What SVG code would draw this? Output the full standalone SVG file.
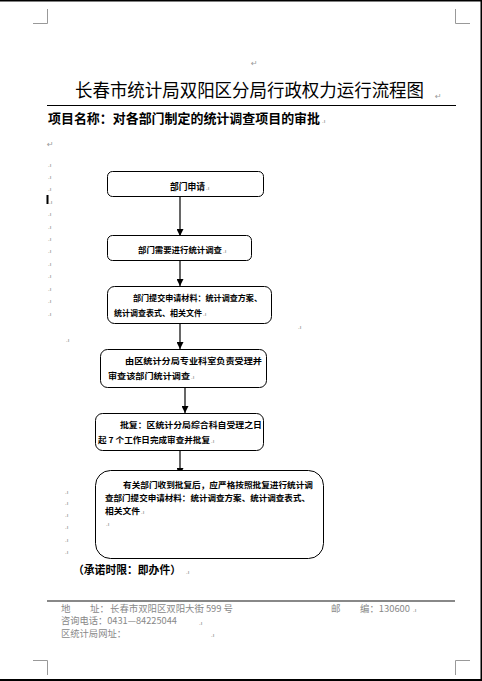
<svg xmlns="http://www.w3.org/2000/svg" width="482" height="681" viewBox="0 0 482 681">
<style>
.bx{fill:#fff;stroke:#000;stroke-width:1}
.t{font-family:"Noto Sans CJK SC","Liberation Sans",sans-serif;fill:#000}
.bt{font-family:"Noto Sans CJK SC","Liberation Sans",sans-serif;font-size:8px;font-weight:bold;fill:#000}
.mk{font-family:"Liberation Sans",sans-serif;font-size:6px;fill:#777}
.rt{font-family:"DejaVu Sans",sans-serif;font-size:8px;fill:#999}
.ft{font-family:"Noto Sans CJK SC","Liberation Serif",serif;font-size:9.5px;fill:#888}
.cm{stroke:#999;stroke-width:1;fill:none}
.ln{stroke:#000;stroke-width:1.2;fill:none}
</style>
<defs>
<marker id="ah" viewBox="0 0 8 8" refX="8" refY="4" markerWidth="7" markerHeight="7" markerUnits="userSpaceOnUse" orient="auto">
<path d="M0,0 L8,4 L0,8 Z" fill="#000"/>
</marker>
</defs>
<rect width="482" height="681" fill="#fff"/>
<!-- page borders -->
<rect x="0" y="0" width="482" height="1.5" fill="#000"/>
<rect x="480.5" y="0" width="1.5" height="681" fill="#000"/>
<rect x="0" y="679" width="482" height="2" fill="#000"/>
<!-- corner marks -->
<path class="cm" d="M33,23.5 H47.5 V9 M455.5,9 V23.5 H470 M33,660.5 H47.5 V675 M455.5,675 V660.5 H470"/>
<text class="rt" x="251" y="66">↵</text>
<!-- title -->
<text class="t" x="75" y="97" font-size="18" textLength="349" lengthAdjust="spacingAndGlyphs" fill="#222">长春市统计局双阳区分局行政权力运行流程图</text>
<text class="rt" x="435" y="99">↵</text>
<line x1="47" y1="105.5" x2="456" y2="105.5" stroke="#000" stroke-width="1"/>
<text class="t" x="48" y="122.5" font-size="13" font-weight="bold" textLength="272" lengthAdjust="spacingAndGlyphs">项目名称：对各部门制定的统计调查项目的审批</text>
<text class="mk" x="322" y="123">.ı</text>
<text class="rt" x="47" y="147">↵</text>
<!-- left paragraph marks -->
<g class="mk">
<text x="48" y="167">.ı</text><text x="48" y="179">.ı</text><text x="48" y="191">.ı</text><text x="49" y="204">.ı</text>
<text x="48" y="216">.ı</text><text x="48" y="229">.ı</text><text x="48" y="241">.ı</text><text x="48" y="253">.ı</text>
<text x="48" y="266">.ı</text><text x="48" y="278">.ı</text><text x="48" y="291">.ı</text><text x="48" y="303">.ı</text>
<text x="48" y="316">.ı</text>
<text x="298" y="329">.ı</text><text x="66" y="342">.ı</text>
<text x="65" y="494">.ı</text><text x="65" y="505">.ı</text><text x="65" y="517">.ı</text><text x="65" y="529">.ı</text>
<text x="65" y="542">.ı</text><text x="65" y="554">.ı</text>
</g>
<rect x="46.5" y="195" width="2" height="9" fill="#000"/>
<!-- connectors -->
<g id="connectors">
<line class="ln" x1="180" y1="197" x2="180" y2="236" marker-end="url(#ah)"/>
<line class="ln" x1="180" y1="260" x2="180" y2="286" marker-end="url(#ah)"/>
<line class="ln" x1="180" y1="324" x2="180" y2="349" marker-end="url(#ah)"/>
<line class="ln" x1="185" y1="388" x2="185" y2="413" marker-end="url(#ah)"/>
<line class="ln" x1="180" y1="451" x2="180" y2="475" marker-end="url(#ah)"/>
</g>
<g id="n1">
<rect class="bx" x="107.5" y="171.5" width="156" height="25" rx="5"/>
<text class="t" x="170" y="190" font-size="9" font-weight="bold" textLength="35" lengthAdjust="spacingAndGlyphs">部门申请</text>
<text class="mk" x="206" y="190">.ı</text>
</g>
<g id="n2">
<rect class="bx" x="107.5" y="235.5" width="144" height="25" rx="5"/>
<text class="bt" x="138" y="253" textLength="84" lengthAdjust="spacingAndGlyphs">部门需要进行统计调查</text>
<text class="mk" x="223" y="253">.ı</text>
</g>
<g id="n3">
<rect class="bx" x="107.5" y="286.5" width="164" height="37" rx="7"/>
<text class="bt" x="133" y="301" textLength="129" lengthAdjust="spacingAndGlyphs">部门提交申请材料：统计调查方案、</text>
<text class="bt" x="114" y="316" textLength="88" lengthAdjust="spacingAndGlyphs">统计调查表式、相关文件</text>
<text class="mk" x="203" y="316">.ı</text>
</g>
<g id="n4">
<rect class="bx" x="100.5" y="349.5" width="166" height="38" rx="7"/>
<text class="bt" x="125" y="364" textLength="137" lengthAdjust="spacingAndGlyphs">由区统计分局专业科室负责受理并</text>
<text class="bt" x="108" y="379" textLength="82" lengthAdjust="spacingAndGlyphs">审查该部门统计调查</text>
<text class="mk" x="191" y="379">.ı</text>
</g>
<g id="n5">
<rect class="bx" x="95.5" y="413.5" width="168" height="37" rx="7"/>
<text class="bt" x="120" y="428" textLength="142" lengthAdjust="spacingAndGlyphs">批复：区统计分局综合科自受理之日</text>
<text class="bt" x="98" y="443" textLength="112" lengthAdjust="spacingAndGlyphs">起 7 个工作日完成审查并批复</text>
<text class="mk" x="211" y="443">.ı</text>
</g>
<g id="n6">
<rect class="bx" x="95.5" y="470.5" width="228" height="88" rx="15"/>
<text class="bt" x="123" y="488" textLength="190" lengthAdjust="spacingAndGlyphs">有关部门收到批复后，应严格按照批复进行统计调</text>
<text class="bt" x="105" y="501" textLength="205" lengthAdjust="spacingAndGlyphs">查部门提交申请材料：统计调查方案、统计调查表式、</text>
<text class="bt" x="105" y="514" textLength="35" lengthAdjust="spacingAndGlyphs">相关文件</text>
<text class="mk" x="141" y="514">.ı</text>
<text class="mk" x="106" y="526">.ı</text>
</g>
<text class="t" x="73" y="574" font-size="11" font-weight="bold" textLength="108" lengthAdjust="spacingAndGlyphs">（承诺时限：即办件）</text>
<text class="mk" x="186" y="574">.ı</text>
<!-- footer -->
<line x1="47" y1="601" x2="455" y2="601" stroke="#888" stroke-width="2"/>
<text class="ft" x="61" y="611.5">地</text>
<text class="ft" x="90" y="611.5">址：</text>
<text class="ft" x="110" y="611.5" textLength="123" lengthAdjust="spacingAndGlyphs">长春市双阳区双阳大街 599 号</text>
<text class="ft" x="331" y="611.5">邮</text>
<text class="ft" x="360" y="611.5" textLength="50" lengthAdjust="spacingAndGlyphs">编：130600</text>
<text class="mk" x="413" y="612">.ı</text>
<text class="ft" x="61" y="624" textLength="116" lengthAdjust="spacingAndGlyphs">咨询电话：0431—84225044</text>
<text class="mk" x="199" y="625">.ı</text>
<text class="ft" x="61" y="636.5" textLength="65" lengthAdjust="spacingAndGlyphs">区统计局网址：</text>
<text class="mk" x="211" y="637">.ı</text>
</svg>
